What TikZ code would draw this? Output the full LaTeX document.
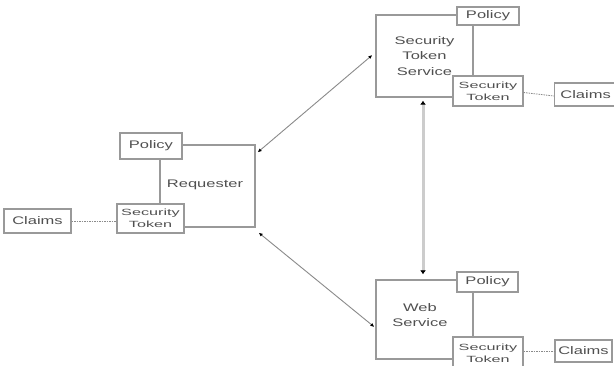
\documentclass[tikz,border=0pt]{standalone}
\usepackage{fontspec}
\usepackage{graphicx}
\setmainfont{Liberation Sans}
\usetikzlibrary{arrows.meta,shadows,calc}
\definecolor{edge}{HTML}{999999}
\definecolor{wire}{HTML}{8A8A8A}
\definecolor{bus}{HTML}{CCCCCC}
\definecolor{ink}{HTML}{505050}
% wide lettering
\newcommand\wide[1]{\scalebox{1.5}[1]{#1}}
\newcommand\wider[1]{\scalebox{1.8}[1]{#1}}
\begin{document}
\begin{tikzpicture}[x=1pt,y=-1pt,
  bigbox/.style={draw=edge, line width=1.3pt, inner sep=0pt, text=ink,
    font=\fontsize{11}{15.5}\selectfont, align=center},
  smallbox/.style={draw=edge, line width=1.2pt, fill=white, inner sep=0pt, text=ink,
    font=\fontsize{11}{13}\selectfont, align=center,
    drop shadow={shadow xshift=1.2pt, shadow yshift=-1.2pt, fill=black!22, opacity=1}},
  tokenbox/.style={smallbox, font=\fontsize{9}{12}\selectfont},
  link/.style={draw=wire, line width=0.9pt,
    {Latex[length=4pt,width=3.5pt,color=black]}-{Latex[length=4pt,width=3.5pt,color=black]}},
  trunk/.style={draw=bus, line width=3pt,
    {Latex[length=4pt,width=6pt,color=black]}-{Latex[length=4pt,width=6pt,color=black]}},
  dotline/.style={draw=wire, line width=0.8pt, dash pattern=on 1.5pt off 1pt}
]
\useasboundingbox (0,0) rectangle (614,366);
\fill[white] (0,0) rectangle (614,366);

% principal boxes
\node[bigbox, minimum width=95pt, minimum height=82pt] (req) at (207.5,186) {};
\node[text=ink, font=\fontsize{11}{15}\selectfont] (reqlbl) at (205,185) {\wide{Requester}};
\node[bigbox, minimum width=97pt, minimum height=82pt] (sts) at (424.5,56)
  {\wide{Security}\\\wide{Token}\\\wide{Service}};
\node[bigbox, minimum width=97pt, minimum height=79pt] (ws) at (424.5,319.5) {};
\node[text=ink, font=\fontsize{11}{15.5}\selectfont, align=center] (wslbl) at (420,315)
  {\wide{Web}\\\wide{Service}};

% message flows
\draw[link] ([shift={(2pt,-8pt)}]req.north east) -- ([shift={(-3pt,1pt)}]sts.west);
\draw[link] ([shift={(3pt,-5pt)}]req.south east) -- ([shift={(-1pt,-7.5pt)}]ws.west);
\draw[trunk, shorten <=3pt, shorten >=5pt] ([xshift=-1.5pt]sts.south) -- ([xshift=-1.5pt]ws.north);

% requester side
\node[smallbox, minimum width=62pt, minimum height=26pt] (reqpol) at (151,146) {\wide{Policy}};
\node[tokenbox, minimum width=67pt, minimum height=29pt] (reqtok) at (150.5,218.5)
  {\wider{Security}\\\wider{Token}};
\node[smallbox, minimum width=67pt, minimum height=24pt] (reqclm) at (37.5,221) {\wide{Claims}};
\draw[dotline] (reqclm.east) -- (reqclm.east -| reqtok.west);

% token service side
\node[smallbox, minimum width=62pt, minimum height=18pt] (stspol) at (488,16) {\wide{Policy}};
\node[tokenbox, minimum width=70pt, minimum height=30pt] (ststok) at (488,91)
  {\wider{Security}\\\wider{Token}};
\node[smallbox, minimum width=62pt, minimum height=23pt, anchor=west] (stsclm) at (554,94.5) {\wide{Claims}};
\draw[dotline] ([yshift=-1.5pt]ststok.east) -- ([yshift=-1.5pt]stsclm.west);

% web service side
\node[smallbox, minimum width=61pt, minimum height=20pt] (wspol) at (487.5,282) {\wide{Policy}};
\node[tokenbox, minimum width=70pt, minimum height=32pt] (wstok) at (488,353)
  {\wider{Security}\\\wider{Token}};
\node[smallbox, minimum width=57pt, minimum height=22pt] (wsclm) at (583.5,351) {\wide{Claims}};
\draw[dotline] (wsclm.west -| wstok.east) -- (wsclm.west);
\end{tikzpicture}
\end{document}
